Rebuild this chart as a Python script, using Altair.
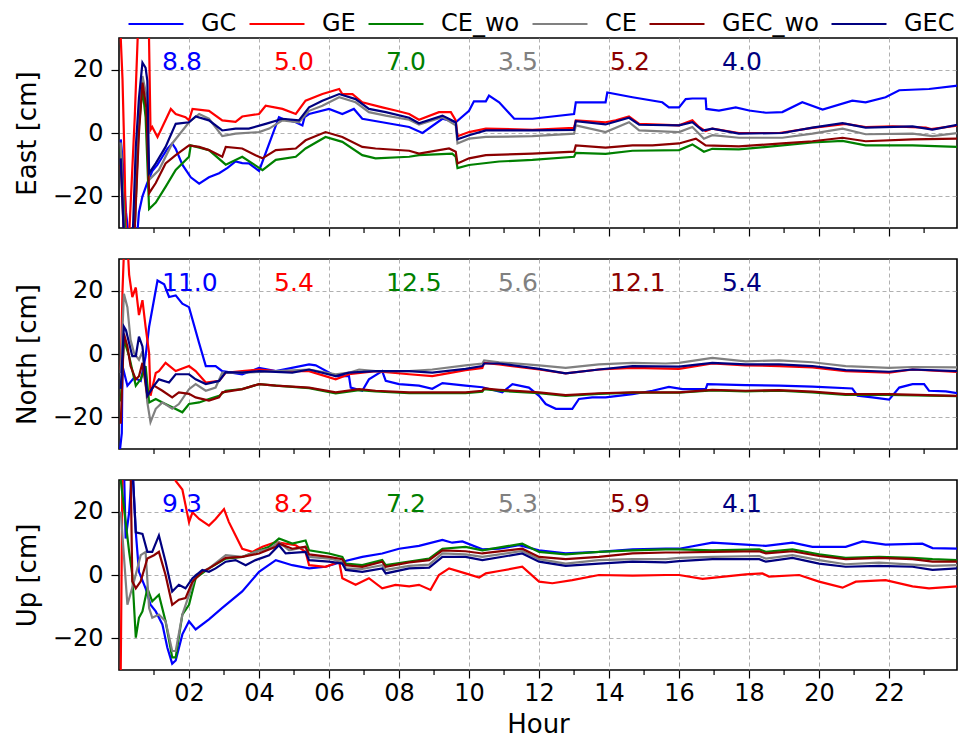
import altair as alt
import pandas as pd

SERIES = ["GC", "GE", "CE_wo", "CE", "GEC_wo", "GEC"]
COLORS = ["#0000ff", "#ff0000", "#008000", "#808080", "#8b0000", "#000080"]

# ---------------- East ----------------
E_GC = [(0.05, -2), (0.1, -8), (0.2, -25), (0.3, -35), (0.5, -35), (0.57, -25), (0.67, -20), (0.8, -16),
        (0.95, -12), (1.1, -10), (1.24, -7.5), (1.38, -5), (1.52, -3.3), (1.62, -5), (1.81, -10), (2.05, -14),
        (2.29, -16), (2.57, -14), (2.86, -12.7), (3.1, -11), (3.33, -9), (3.52, -9.5), (3.71, -9.6), (4.0, -12),
        (4.57, 5), (4.67, 4.5), (5.05, 3.4), (5.24, 2.4), (5.3, 5), (5.43, 6), (6.0, 7.6), (6.38, 6),
        (6.71, 7.6), (6.95, 4.5), (7.52, 3.4), (8.29, 1.9), (8.67, 0), (9.24, 4.5), (9.62, 3.4), (10.0, 7),
        (10.14, 10), (10.48, 10), (10.57, 11.8), (10.86, 9.7), (11.29, 4.5), (11.81, 4.5), (13.0, 6), (13.05, 9.7),
        (13.9, 9.7), (13.95, 12.8), (14.67, 11.3), (15.52, 9.7), (15.71, 8.1), (16.0, 8.1), (16.19, 10.7),
        (16.38, 10.9), (16.76, 10.9), (16.78, 7.6), (17.14, 7.1), (17.62, 8.1), (18.0, 7.1), (18.48, 6.4),
        (18.95, 6.6), (19.52, 9.7), (20.1, 7.4), (20.95, 10.2), (21.33, 9.7), (21.9, 11.3), (22.29, 13.5),
        (23.14, 13.9), (23.9, 14.9), (23.97, 15)]
E_GE = [(0.03, 35), (0.1, 17), (0.15, -5), (0.2, -32), (0.3, -30), (0.45, 5), (0.55, 35), (0.85, 35), (0.9, 1),
        (0.95, 1.9), (1.1, -1.25), (1.24, 2), (1.48, 7.6), (1.62, 6), (1.9, 5), (2.0, 4), (2.1, 7.6), (2.57, 7),
        (2.95, 4), (3.33, 3.5), (3.52, 5.2), (4.0, 6), (4.19, 8.6), (4.67, 7.6), (5.05, 6), (5.33, 10.2),
        (5.81, 12.3), (6.29, 13.9), (6.38, 12.3), (6.67, 12.3), (6.95, 9.7), (7.52, 8.1), (7.9, 7.1), (8.29, 6),
        (8.57, 4.2), (9.14, 6.6), (9.48, 6.6), (9.62, 4), (9.67, -1), (10.0, 0.3), (10.48, 1.4), (11.81, 1),
        (13.0, 1.6), (13.05, 4), (13.9, 3.4), (14.19, 4), (14.57, 5.2), (14.86, 2.9), (16.0, 2.4), (16.38, 4),
        (16.57, 1.9), (16.76, 0.6), (16.95, 1.4), (17.71, 0), (18.86, 0), (19.81, 1.6), (20.76, 2.9),
        (21.33, 1.9), (22.1, 2.1), (23.05, 1.7), (23.2, 1.25), (23.97, 2.4)]
E_CE_WO = [(0.05, -5), (0.12, -20), (0.2, -35), (0.45, -30), (0.55, 0), (0.67, 13.9), (0.76, 5), (0.86, -24),
           (1.05, -22), (1.33, -17), (1.62, -11.7), (2.0, -7.5), (2.05, -3.9), (2.57, -5.4), (3.05, -10),
           (3.52, -7.5), (4.1, -11.7), (4.48, -8.5), (5.05, -7.5), (5.33, -4.9), (5.9, -1.25), (6.38, -2.8),
           (6.95, -7), (7.33, -8), (8.29, -7.5), (8.57, -7), (9.52, -6.5), (9.62, -7.5), (9.67, -11.1),
           (10.0, -10.1), (10.86, -9), (11.81, -8.5), (13.0, -7.5), (13.05, -6.25), (13.9, -6.6), (14.67, -5.6),
           (16.0, -5.4), (16.38, -3.6), (16.71, -5.9), (16.95, -5), (17.71, -5.2), (18.95, -3.9), (19.81, -3),
           (20.67, -2.5), (21.33, -3.9), (22.67, -3.9), (23.97, -4.4)]
E_CE = [(0.05, -3), (0.15, -30), (0.3, -35), (0.45, -30), (0.57, 5), (0.67, 18), (0.78, 12), (0.86, -14.8),
        (1.14, -11.7), (1.52, -3.3), (2.0, 3.4), (2.29, 6), (2.57, 4.5), (2.95, -1), (3.33, -0.2), (4.0, 0.3),
        (4.29, 1.4), (4.67, 4), (5.14, 3.4), (5.43, 7), (5.81, 8.6), (6.29, 11.3), (6.76, 9.7), (7.14, 6.6),
        (7.62, 5.5), (8.29, 4.2), (8.57, 2.7), (9.24, 5), (9.62, 2.4), (9.67, -3.3), (10.0, -1.8),
        (10.48, -1.25), (11.81, -1), (13.0, -0.2), (13.05, 2.4), (13.9, 0.3), (14.57, 3.4), (14.86, 0.8),
        (16.0, 0.3), (16.38, 1.9), (16.71, -1.8), (16.95, -0.7), (17.71, -1.5), (18.95, -1.5), (19.81, -0.2),
        (20.67, 1.4), (21.33, -0.4), (22.67, -0.2), (23.24, -1), (23.97, 0)]
E_GEC_WO = [(0.05, -10), (0.15, -35), (0.45, -30), (0.57, 0), (0.67, 15.9), (0.78, 8), (0.86, -19), (1.05, -15.8),
            (1.33, -9.6), (1.62, -7), (2.0, -3.9), (2.29, -4.4), (2.57, -5.4), (2.95, -7.5), (3.05, -4.4),
            (3.52, -4.9), (3.9, -7), (4.1, -8), (4.48, -5.4), (5.05, -4.9), (5.33, -2.3), (5.9, 0.3),
            (6.38, -1.25), (6.95, -4.4), (7.33, -4.9), (8.29, -5.6), (8.57, -6.5), (9.43, -4.9), (9.62, -5.9),
            (9.67, -9.6), (10.0, -8), (10.48, -7), (11.81, -6.5), (13.0, -5.9), (13.05, -3.9), (13.9, -4.6),
            (14.67, -3.9), (15.24, -3.9), (16.0, -3.3), (16.48, -1.8), (16.76, -3.9), (17.71, -4.2),
            (18.95, -3.3), (19.81, -2.6), (20.67, -1.5), (21.33, -2.6), (22.67, -2), (23.97, -1.8)]
E_GEC = [(0.05, -8), (0.15, -35), (0.4, -30), (0.48, -4.4), (0.57, 11), (0.67, 22.2), (0.76, 20.6), (0.81, 16.5),
         (0.86, -12.7), (1.05, -9.6), (1.33, -4.4), (1.62, 2.9), (2.0, 3.4), (2.19, 5.2), (2.57, 4), (2.95, 0.8),
         (3.33, 1.4), (3.71, 1.4), (4.19, 2.9), (4.67, 4.5), (5.14, 4), (5.43, 8.1), (5.81, 10.2), (6.29, 12.3),
         (6.76, 10.7), (7.14, 7.6), (7.62, 6.6), (8.29, 4.8), (8.57, 3.1), (9.24, 5.5), (9.62, 3.4), (9.67, -2),
         (10.0, -0.7), (10.48, 0.8), (11.81, 0.8), (13.0, 1), (13.05, 3.75), (13.9, 2.7), (14.57, 4.8),
         (14.86, 2.6), (16.0, 2.4), (16.38, 3.4), (16.67, 0.8), (16.95, 1.4), (17.71, -0.2), (18.95, 0),
         (19.81, 1.7), (20.67, 3.1), (21.33, 1.7), (22.67, 2.1), (23.24, 1.1), (23.97, 2.6)]

# ---------------- North ----------------
N_GC = [(0.03, -30), (0.08, -25), (0.1, -3.8), (0.24, -10), (0.43, -7.5), (0.62, -8.5), (0.76, -0.7), (0.86, 8.6),
        (1.1, 23.2), (1.29, 22), (1.43, 18), (1.62, 18.5), (1.81, 15.9), (2.0, 14.8), (2.29, 3.4), (2.48, -3.8),
        (2.76, -3.8), (2.95, -5.4), (3.52, -6.4), (4.0, -4.4), (4.48, -5.4), (5.43, -3.3), (5.62, -3.6),
        (6.19, -7), (6.57, -7), (6.62, -10.6), (6.95, -11.6), (7.14, -8), (7.52, -5.4), (7.62, -8.5), (8.0, -9.5),
        (8.57, -10), (8.95, -11), (9.24, -9.2), (9.9, -10), (10.38, -10.5), (10.95, -12.1), (11.24, -9.5),
        (11.71, -10.6), (12.0, -13.2), (12.19, -15.8), (12.48, -17.3), (12.95, -17.3), (13.14, -14.2),
        (13.52, -13.7), (13.9, -13.7), (14.67, -12.7), (15.24, -11.6), (15.71, -10.4), (16.1, -11.1),
        (16.76, -11.1), (16.81, -9.5), (17.9, -9.8), (18.86, -10), (19.81, -10.3), (20.95, -10.9),
        (21.1, -13.2), (21.52, -13.7), (22.0, -14.4), (22.29, -10.6), (22.67, -9.5), (23.0, -9.5),
        (23.14, -11.6), (23.62, -11.8), (23.97, -12.4)]
N_GE = [(0.05, -5), (0.1, 20), (0.15, 35), (0.24, 35), (0.29, 25), (0.38, 18), (0.48, 21), (0.57, 12.3), (0.67, 17),
        (0.76, 8.6), (0.86, 0.3), (0.9, -13.2), (1.05, -6), (1.14, -5.4), (1.33, -2.8), (1.62, -5.4), (2.0, -3.8),
        (2.19, -5.4), (2.48, -9), (2.86, -8.5), (3.05, -5.9), (3.52, -5.4), (4.0, -4.9), (4.48, -5.4),
        (5.43, -5.4), (6.19, -8), (6.57, -6.4), (7.33, -5.4), (8.29, -6.4), (8.95, -7), (9.9, -5.1),
        (10.38, -4.4), (10.43, -2.8), (10.86, -3.3), (12.0, -4.9), (12.76, -6.1), (13.71, -4.9), (14.67, -4.4),
        (16.0, -4.7), (16.95, -3), (17.9, -3.6), (18.86, -3.8), (19.81, -4.2), (20.76, -5.4), (22.0, -5.9),
        (22.67, -4.9), (23.97, -5.7)]
N_CE_WO = [(0.05, -15), (0.14, 4.5), (0.29, -0.7), (0.48, -10), (0.62, -8), (0.76, -3.8), (0.86, -15.3),
           (1.05, -14.2), (1.24, -15.3), (1.52, -16.8), (1.81, -18.4), (2.0, -15.8), (2.29, -15.3), (2.57, -14.2),
           (2.86, -13.2), (3.05, -11.6), (3.52, -11.1), (4.0, -9.5), (4.48, -10), (5.43, -10.8), (6.19, -12.4),
           (6.86, -11.4), (7.33, -11.8), (8.29, -12.4), (8.95, -12.4), (9.9, -12.4), (10.38, -11.9),
           (10.43, -11.1), (10.86, -11.6), (12.0, -12.4), (12.76, -13.2), (13.71, -12.6), (14.67, -12.2),
           (16.0, -12.2), (16.95, -11.5), (17.9, -11.8), (18.86, -11.6), (19.81, -12.1), (20.76, -12.9),
           (22.0, -12.9), (23.97, -13.3)]
N_CE = [(0.05, -6), (0.14, 19), (0.24, 14.8), (0.33, 4.5), (0.43, 0.3), (0.57, -1.8), (0.67, 0.8), (0.81, -15.3),
        (0.9, -21.5), (1.05, -17.3), (1.24, -15.3), (1.52, -17.3), (1.71, -15.8), (2.0, -11.1), (2.19, -9.5),
        (2.48, -11.6), (2.76, -10.6), (2.95, -5.9), (3.52, -5.9), (4.48, -5.4), (5.43, -4.9), (6.19, -6.4),
        (6.57, -5.9), (6.86, -4.9), (7.33, -5.4), (8.29, -5.4), (8.95, -4.9), (9.9, -3.6), (10.38, -3),
        (10.43, -2), (10.86, -2.6), (12.0, -3.6), (12.76, -4.4), (13.71, -3.3), (14.67, -2.8), (15.62, -3),
        (16.0, -2.8), (16.95, -1.2), (17.9, -2.3), (18.86, -2), (19.81, -2.6), (20.76, -3.8), (22.0, -4.4),
        (22.67, -4.1), (23.97, -4.2)]
N_GEC_WO = [(0.05, -22), (0.14, 6.5), (0.24, 2.4), (0.33, -3.8), (0.48, -8), (0.57, -7), (0.67, -2.8),
            (0.81, -13.2), (1.0, -10), (1.24, -11.6), (1.52, -13.7), (1.71, -12.1), (2.0, -12.6), (2.19, -13.7),
            (2.57, -14.7), (2.86, -13.7), (2.95, -12.1), (3.52, -11.1), (4.0, -9.5), (4.48, -10), (5.43, -10.6),
            (6.19, -12.1), (6.86, -11.1), (7.33, -11.6), (8.29, -12.1), (8.95, -12.1), (9.9, -12.1),
            (10.38, -11.6), (10.43, -10.9), (10.86, -11.3), (12.0, -12.1), (12.76, -13), (13.71, -12.4),
            (14.67, -12.1), (15.62, -12.1), (16.0, -12.1), (16.95, -11.3), (17.9, -11.6), (18.86, -11.4),
            (19.81, -11.9), (20.76, -12.7), (22.0, -12.7), (23.97, -13.2)]
N_GEC = [(0.05, -11), (0.14, 8.6), (0.2, 7.5), (0.29, 3.4), (0.38, -0.7), (0.48, -0.7), (0.57, 5.5), (0.67, 2.4),
         (0.81, -13.2), (1.0, -10), (1.14, -8), (1.43, -9), (1.62, -6.4), (2.0, -6.4), (2.19, -8), (2.48, -9.5),
         (2.86, -8.5), (3.05, -5.7), (3.52, -5.9), (4.0, -5.4), (4.95, -5.9), (5.43, -4.9), (6.19, -7),
         (6.57, -5.9), (7.33, -5.4), (8.29, -5.4), (8.95, -5.9), (9.9, -4.7), (10.38, -3.8), (10.43, -3),
         (10.86, -3), (12.0, -4.7), (12.76, -6.1), (13.71, -4.9), (14.67, -3.8), (16.0, -4), (16.95, -2.8),
         (17.9, -3.3), (18.86, -3.3), (19.81, -3.8), (20.76, -5.1), (22.0, -5.6), (22.67, -4.9), (23.97, -5.4)]

# ---------------- Up ----------------
U_GC = [(0.03, 35), (0.14, 35), (0.19, 11.5), (0.29, 19.8), (0.38, 35), (0.48, 13.5), (0.57, 1), (0.76, -4.2),
        (0.9, -9.4), (1.05, -11.5), (1.24, -15.6), (1.38, -22.9), (1.52, -28), (1.62, -27), (1.81, -18.75),
        (2.0, -14.6), (2.19, -17.2), (2.57, -14), (2.95, -10.4), (3.52, -5.2), (4.0, 1), (4.48, 4.7),
        (4.95, 3.1), (5.43, 2.1), (5.9, 2.6), (6.38, 4.2), (6.95, 5.7), (7.52, 6.8), (8.0, 8.3), (8.57, 9.2),
        (9.24, 11.1), (9.52, 10.2), (9.81, 10.6), (10.38, 8.1), (10.86, 8.3), (11.43, 9.4), (12.0, 7.8),
        (12.76, 6.8), (13.71, 7.3), (14.67, 8.1), (15.62, 8.3), (16.0, 8.3), (16.95, 10.2), (17.9, 9.6),
        (18.48, 9.2), (19.24, 10.2), (19.81, 8.9), (20.76, 8.9), (21.24, 10.6), (21.9, 9.6), (22.95, 9.9),
        (23.24, 8.5), (23.97, 8.3)]
U_GE = [(0.03, -35), (0.05, -30), (0.1, 35), (1.5, 35), (1.62, 29.7), (1.81, 27), (2.0, 16.7), (2.1, 19.8),
        (2.29, 17.7), (2.57, 15.6), (2.76, 17.7), (3.0, 20.8), (3.14, 16.7), (3.33, 12.5), (3.52, 8.3),
        (3.81, 7.3), (4.1, 8.9), (4.48, 10.4), (5.05, 9.4), (5.33, 7.3), (5.43, 3.1), (5.9, 2.6), (6.29, 4.2),
        (6.38, -1), (6.76, -3.1), (7.14, -1), (7.52, -4.2), (7.9, -3.1), (8.29, -3.6), (8.57, -3.1),
        (8.9, -4.7), (9.14, 0), (9.43, 2.1), (9.9, 0.5), (10.29, -0.8), (10.48, 0.5), (10.86, 1.25),
        (11.52, 2.6), (12.0, -2.1), (12.38, -2.6), (12.95, -1.6), (13.71, 0), (14.67, -0.2), (15.62, 0),
        (16.0, 0), (16.67, -1.25), (17.9, 0.2), (18.38, 0.5), (18.57, -0.5), (19.43, 0), (20.0, -2.1),
        (20.67, -4), (21.05, -2.1), (21.9, -1.6), (22.67, -3.6), (23.14, -4.2), (23.97, -3.6)]
U_CE_WO = [(0.05, 30), (0.29, 7.3), (0.38, 0), (0.48, -19.8), (0.57, -13.5), (0.67, -11.5), (0.81, -4.2),
           (0.95, -8.3), (1.14, -6.25), (1.33, -14.6), (1.52, -26), (1.62, -26), (1.81, -12.5), (2.0, -9.4),
           (2.19, -1), (2.57, 2.1), (3.05, 5.2), (3.52, 5.7), (3.9, 7.3), (4.29, 8.9), (4.57, 11.5), (4.95, 9.9),
           (5.33, 10.9), (5.43, 7.8), (6.0, 6.8), (6.38, 5.7), (6.48, 3.6), (6.95, 3.1), (7.52, 4.7), (7.62, 3.1),
           (8.29, 4.2), (8.86, 5.2), (9.24, 8.3), (9.9, 8.9), (10.38, 7.8), (11.52, 9.9), (12.0, 7.3),
           (12.76, 6.5), (13.71, 7.3), (14.67, 7.8), (15.62, 8.1), (16.0, 8.1), (16.95, 7.8), (18.29, 8.1),
           (18.48, 7.3), (19.24, 8.1), (20.0, 6.5), (20.76, 5.4), (21.71, 5.7), (22.67, 5.4), (23.24, 5),
           (23.97, 4.7)]
U_CE = [(0.05, 20), (0.24, -9.4), (0.43, -2), (0.62, 6.25), (0.76, 7.3), (0.86, -10.4), (0.95, -13.5),
        (1.14, -12.5), (1.33, -14.6), (1.52, -24), (1.62, -24), (1.81, -12.5), (2.0, -6.25), (2.19, 0),
        (2.57, 2.1), (3.05, 6.25), (3.52, 5.7), (3.9, 7.3), (4.29, 8.3), (4.57, 10.4), (4.86, 7.8), (5.33, 8.9),
        (5.43, 5.7), (6.0, 5.2), (6.38, 4.2), (6.48, 2.1), (6.95, 1.9), (7.52, 3.1), (7.62, 1.6), (8.29, 2.9),
        (8.86, 3.3), (9.24, 6.8), (9.9, 6.5), (10.38, 5.7), (11.52, 7.6), (12.0, 5), (12.76, 3.6), (13.71, 4.7),
        (14.67, 5), (15.62, 5), (16.0, 5.4), (16.95, 5.7), (18.29, 6), (18.48, 5.2), (19.24, 6.25), (20.0, 4.7),
        (20.76, 3.4), (21.71, 3.9), (22.67, 3.3), (23.24, 2.9), (23.97, 3.1)]
U_GEC_WO = [(0.05, 35), (0.33, 35), (0.38, -2), (0.48, -4.2), (0.62, -2), (0.81, 5.2), (1.0, 6.25), (1.14, 7.3),
            (1.33, 0), (1.52, -9.4), (1.71, -7.8), (1.9, -7.3), (2.1, -2.1), (2.38, 1), (2.57, 2.1), (3.05, 5.4),
            (3.52, 5.7), (4.0, 6.8), (4.48, 8.9), (4.57, 9.9), (4.95, 8.3), (5.33, 8.9), (5.43, 6.5), (6.0, 5.7),
            (6.38, 5), (6.48, 3.1), (6.95, 2.6), (7.52, 4.2), (7.62, 2.6), (8.29, 4), (8.86, 4.7), (9.24, 7.8),
            (9.9, 7.5), (10.38, 6.8), (11.52, 8.3), (12.0, 5.7), (12.76, 5), (13.71, 5.7), (14.67, 6.8),
            (15.62, 7.1), (16.0, 7.1), (16.95, 7.3), (18.29, 7.5), (18.48, 6.8), (19.24, 7.5), (20.0, 6),
            (20.76, 5), (21.71, 5.4), (22.67, 5), (23.24, 4.2), (23.97, 4.2)]
U_GEC = [(0.05, 35), (0.38, 35), (0.48, 13.5), (0.67, 13), (0.81, 7.3), (0.95, 7.3), (1.14, 12.5), (1.33, 4.2),
         (1.52, -5.2), (1.71, -3.1), (1.9, -4.2), (2.1, -1), (2.38, 1.6), (2.57, 1), (2.76, 2.1), (3.05, 4.2),
         (3.33, 4.7), (3.62, 3.1), (3.9, 4.7), (4.29, 6.25), (4.57, 9.4), (4.76, 6.8), (5.33, 7.3), (5.43, 4.7),
         (6.0, 4.2), (6.38, 3.6), (6.48, 1.6), (6.95, 1), (7.52, 2.1), (7.62, 0.5), (8.29, 2.1), (8.86, 2.3),
         (9.24, 5.7), (9.9, 5.7), (10.38, 4.7), (11.52, 6.8), (12.0, 4.2), (12.76, 2.9), (13.71, 3.6),
         (14.67, 4.2), (15.62, 4), (16.0, 4.4), (16.95, 5), (18.29, 5), (18.48, 4.2), (19.24, 5.4), (20.0, 3.6),
         (20.76, 2.6), (21.71, 2.9), (22.67, 2.6), (23.24, 1.6), (23.97, 2.1)]

# RMS annotations
E_RMS = ["8.8", "5.0", "7.0", "3.5", "5.2", "4.0"]
N_RMS = ["11.0", "5.4", "12.5", "5.6", "12.1", "5.4"]
U_RMS = ["9.3", "8.2", "7.2", "5.3", "5.9", "4.1"]
RMS_HOURS = [1.23, 4.43, 7.63, 10.83, 14.03, 17.23]
RMS_LEVEL = 22.5

MAJOR_X = [2, 4, 6, 8, 10, 12, 14, 16, 18, 20, 22]
MINOR_X = [1, 3, 5, 7, 9, 11, 13, 15, 17, 19, 21, 23]
Y_TICKS = [-20, 0, 20]
X_DOMAIN = [0, 23.94]
Y_DOMAIN = [-30, 30]

FONT = "DejaVu Sans"
PANEL_W = 838
PANEL_H = 190

color_enc = alt.Color(
    "series:N",
    scale=alt.Scale(domain=SERIES, range=COLORS),
    legend=alt.Legend(
        orient="none", legendX=25, legendY=-26, direction="horizontal", title=None,
        symbolType="M-4,0H4", symbolSize=189, symbolStrokeWidth=2.2,
        labelFontSize=24, labelFont=FONT, labelOffset=33, columnPadding=8,
    ),
)


def build_panel(name, series_lists, rms, bottom):
    rows = []
    for s, pairs in zip(SERIES, series_lists):
        for h, v in pairs:
            rows.append({"series": s, "hour": h, "value": v})
    df = pd.DataFrame(rows)
    tdf = pd.DataFrame({"hour": RMS_HOURS, "value": [RMS_LEVEL] * 6, "label": rms, "col": COLORS})
    mdf = pd.DataFrame({"hour": MINOR_X})

    common = dict(values=MAJOR_X, grid=True, domain=False, tickSize=8, tickColor="black", tickWidth=1.2)
    if bottom:
        xaxis = alt.Axis(format="02d", title="Hour", labelFontSize=24, titleFontSize=26,
                         labelPadding=3, titlePadding=6, **common)
    else:
        xaxis = alt.Axis(labels=False, title=None, **common)

    x = alt.X("hour:Q", scale=alt.Scale(domain=X_DOMAIN, nice=False, zero=False), axis=xaxis)
    y = alt.Y(
        "value:Q",
        scale=alt.Scale(domain=Y_DOMAIN, nice=False, zero=False),
        axis=alt.Axis(values=Y_TICKS, title=f"{name} [cm]", grid=True, domain=False, tickSize=8,
                      tickColor="black", tickWidth=1.2, labelFontSize=24, titleFontSize=26,
                      labelPadding=8, titlePadding=12),
    )
    lines = alt.Chart(df).mark_line(strokeWidth=2.2, clip=True).encode(x=x, y=y, color=color_enc)
    minor = alt.Chart(mdf).mark_rule(color="black", strokeWidth=1.2).encode(
        x=alt.X("hour:Q"), y=alt.value(PANEL_H), y2=alt.value(PANEL_H + 5)
    )
    texts = alt.Chart(tdf).mark_text(align="left", baseline="middle", fontSize=25, font=FONT).encode(
        x=alt.X("hour:Q"), y=alt.Y("value:Q"), text="label:N", color=alt.Color("col:N", scale=None)
    )
    return alt.layer(lines, minor, texts).properties(width=PANEL_W, height=PANEL_H)


east = build_panel("East", [E_GC, E_GE, E_CE_WO, E_CE, E_GEC_WO, E_GEC], E_RMS, False)
north = build_panel("North", [N_GC, N_GE, N_CE_WO, N_CE, N_GEC_WO, N_GEC], N_RMS, False)
up = build_panel("Up", [U_GC, U_GE, U_CE_WO, U_CE, U_GEC_WO, U_GEC], U_RMS, True)

chart = (
    alt.vconcat(east, north, up, spacing=20)
    .properties(padding={"left": 5, "top": 4, "right": 0, "bottom": 0})
    .configure(font=FONT)
    .configure_view(stroke="black", strokeWidth=1.6)
    .configure_axis(
        gridColor="#b0b0b0", gridDash=[4, 3], gridWidth=1, labelColor="black", titleColor="black",
        titleFontWeight="normal", labelFont=FONT, titleFont=FONT,
    )
)

chart.save("out.html", embed_options={"renderer": "svg", "actions": False})
